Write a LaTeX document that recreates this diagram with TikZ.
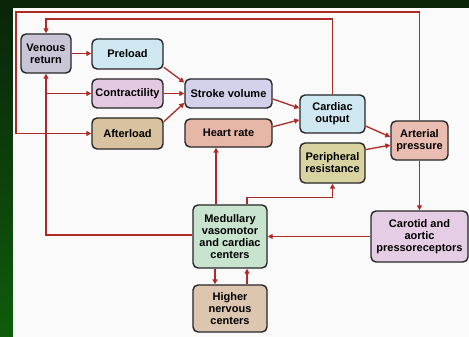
\documentclass[tikz,border=0pt]{standalone}
\usepackage{fontspec}
\setmainfont{Liberation Sans}
\usetikzlibrary{arrows.meta}

\definecolor{link}{HTML}{AE2A27}
\definecolor{edge}{HTML}{262626}
\definecolor{greenTop}{HTML}{0A240A}
\definecolor{greenBot}{HTML}{0F5C0B}
\definecolor{cVen}{HTML}{C9C5D6}
\definecolor{cBlue}{HTML}{CFE7F0}
\definecolor{cContr}{HTML}{E4C9E2}
\definecolor{cTan}{HTML}{D8C2A0}
\definecolor{cSV}{HTML}{D4D2EA}
\definecolor{cHR}{HTML}{E6B7A7}
\definecolor{cPR}{HTML}{D9D3A2}
\definecolor{cAP}{HTML}{E9BDB2}
\definecolor{cMed}{HTML}{C8E4CF}
\definecolor{cHi}{HTML}{DCC6B0}
\definecolor{cCar}{HTML}{E6CDE6}

\begin{document}
\begin{tikzpicture}[x=1pt,y=-1pt,
  box/.style={draw=edge, line width=1.4pt, rounded corners=5pt,
    align=center, inner sep=0pt, font=\fontsize{11}{12}\selectfont\bfseries},
  link/.style={draw=link, line width=1.3pt, -{Triangle[length=5pt,width=5pt]}},
  plain/.style={draw=link, line width=1.3pt}]

% frame: green margin and page
\useasboundingbox (0,0) rectangle (469,337);
\shade[top color=greenTop, bottom color=greenBot] (0,0) rectangle (469,337);
\fill[greenTop] (0,0) rectangle (469,8);
\fill[white!96!gray] (13,8) rectangle (469,337);

% boxes
\node[box, fill=cVen,   minimum width=50pt, minimum height=39pt] (vr)  at (46,53.5)   {Venous\\return};
\node[box, fill=cBlue,  minimum width=71pt, minimum height=30pt] (pre) at (127.5,54)  {Preload};
\node[box, fill=cContr, minimum width=71pt, minimum height=29pt] (con) at (127.5,93.5) {Contractility};
\node[box, fill=cTan,   minimum width=71pt, minimum height=31pt] (aft) at (127.5,133.5) {Afterload};
\node[box, fill=cSV,    minimum width=87pt, minimum height=29pt] (sv)  at (228.5,93.5) {Stroke volume};
\node[box, fill=cHR,    minimum width=87pt, minimum height=28pt] (hr)  at (228.5,133) {Heart rate};
\node[box, fill=cBlue,  minimum width=65pt, minimum height=38pt] (co)  at (332.5,114) {Cardiac\\output};
\node[box, fill=cPR,    minimum width=65pt, minimum height=40pt] (pr)  at (332.5,163) {Peripheral\\resistance};
\node[box, fill=cAP,    minimum width=57pt, minimum height=39pt] (ap)  at (419.5,140.5) {Arterial\\pressure};
\node[box, fill=cMed,   minimum width=74pt, minimum height=63pt] (med) at (230,236.5) {Medullary\\vasomotor\\and cardiac\\centers};
\node[box, fill=cHi,    minimum width=74pt, minimum height=47pt] (hi)  at (230,308.5) {Higher\\nervous\\centers};
\node[box, fill=cCar,   minimum width=97pt, minimum height=51pt] (car) at (419.5,236.5) {Carotid and\\aortic\\pressoreceptors};

% corner points of the feedback loops
\coordinate (outer) at (16,12);
\coordinate (inner) at (46,19);
\coordinate (left)  at (46,235);

% determinants of stroke volume and cardiac output
\draw[link] (vr.east) -- (pre.west |- vr.east);
\draw[link] (pre.-20) -- (sv.166);
\draw[link] (con.east) -- (sv.west);
\draw[link] (aft.18) -- (sv.192);
\draw[link] (sv.-7) -- (co.170);
\draw[link] (hr.8) -- (co.190);
\draw[link] (co.-20) -- (ap.173);
\draw[link] (pr.22) -- (ap.189);

% feedback loops along the top
\draw[link] (ap.north) -- (ap.north |- outer) -- (outer) |- (aft.west);
\draw[link] (co.north) -- (co.north |- inner) -| (vr.north);

% baroreceptor reflex
\draw[link] (ap.south) -- (car.north);
\draw[link] (car.west |- med.east) -- (med.east);
\draw[link] (med.west |- left) -- (left) -- (vr.south);
\draw[link] (left |- con.west) -- (con.west);
\draw[link] ([xshift=-14pt]med.north) -- ([xshift=-14pt]med.north |- hr.south);
\draw[plain] ([xshift=17pt]med.north) |- ([yshift=-14pt]pr.south);
\draw[link] ([yshift=-14pt]pr.south) -- (pr.south);
\draw[link] ([xshift=-15pt]med.south) -- ([xshift=-15pt]hi.north);
\draw[link] ([xshift=17pt]hi.north) -- ([xshift=17pt]med.south);
\end{tikzpicture}
\end{document}
